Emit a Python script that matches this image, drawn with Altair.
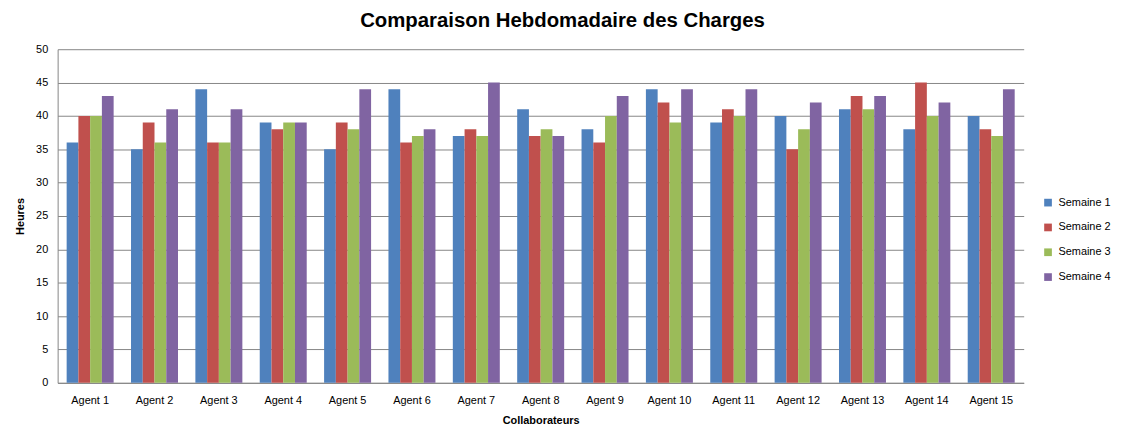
import altair as alt
import pandas as pd

agents = [f"Agent {i}" for i in range(1, 16)]
series = ["Semaine 1", "Semaine 2", "Semaine 3", "Semaine 4"]
semaine1 = [36, 35, 44, 39, 35, 44, 37, 41, 38, 44, 39, 40, 41, 38, 40]
semaine2 = [40, 39, 36, 38, 39, 36, 38, 37, 36, 42, 41, 35, 43, 45, 38]
semaine3 = [40, 36, 36, 39, 38, 37, 37, 38, 40, 39, 40, 38, 41, 40, 37]
semaine4 = [43, 41, 41, 39, 44, 38, 45, 37, 43, 44, 44, 42, 43, 42, 44]
colors = ["#4F81BD", "#C0504D", "#9BBB59", "#8064A2"]

rows = []
for s, vals in zip(series, [semaine1, semaine2, semaine3, semaine4]):
    for a, v in zip(agents, vals):
        rows.append({"Agent": a, "Semaine": s, "Heures": v})
df = pd.DataFrame(rows)

FONT = "Liberation Sans"

chart = alt.Chart(df).mark_bar().encode(
    x=alt.X("Agent:N", sort=agents,
            scale=alt.Scale(paddingInner=0.27, paddingOuter=0.14),
            axis=alt.Axis(title="Collaborateurs", labelAngle=0, labelFontSize=11,
                          labelFont=FONT, labelColor="#000000", titleFont=FONT,
                          titleFontSize=11, titleFontWeight="bold", titleColor="#000000",
                          titlePadding=9, ticks=False, labelPadding=12,
                          domainColor="#868686")),
    xOffset=alt.XOffset("Semaine:N", sort=series),
    y=alt.Y("Heures:Q", scale=alt.Scale(domain=[0, 50]),
            axis=alt.Axis(title="Heures", values=list(range(0, 51, 5)), labelFontSize=11,
                          labelFont=FONT, labelColor="#000000", titleFont=FONT,
                          titleFontSize=11, titleFontWeight="bold", titleColor="#000000",
                          titlePadding=10, ticks=False, labelPadding=10,
                          gridColor="#868686", gridOpacity=1, domainColor="#868686")),
    color=alt.Color("Semaine:N", sort=series,
                    scale=alt.Scale(domain=series, range=colors),
                    legend=alt.Legend(title=None, orient="none", legendX=992, legendY=149,
                                      symbolType="square", symbolSize=60,
                                      symbolStrokeWidth=0, labelFont=FONT,
                                      labelFontSize=11, labelColor="#000000",
                                      rowPadding=13, labelOffset=5)),
).properties(
    width=973,
    height=336,
    title=alt.TitleParams("Comparaison Hebdomadaire des Charges", font=FONT, fontSize=20.5,
                          fontWeight="bold", color="#000000", anchor="middle", dx=22,
                          offset=12),
    autosize=alt.AutoSizeParams(type="none"),
    padding={"left": 50, "top": 40, "right": 99, "bottom": 45},
).configure_view(stroke=None)

chart.save("out.html", embed_options={"renderer": "svg", "actions": False})
